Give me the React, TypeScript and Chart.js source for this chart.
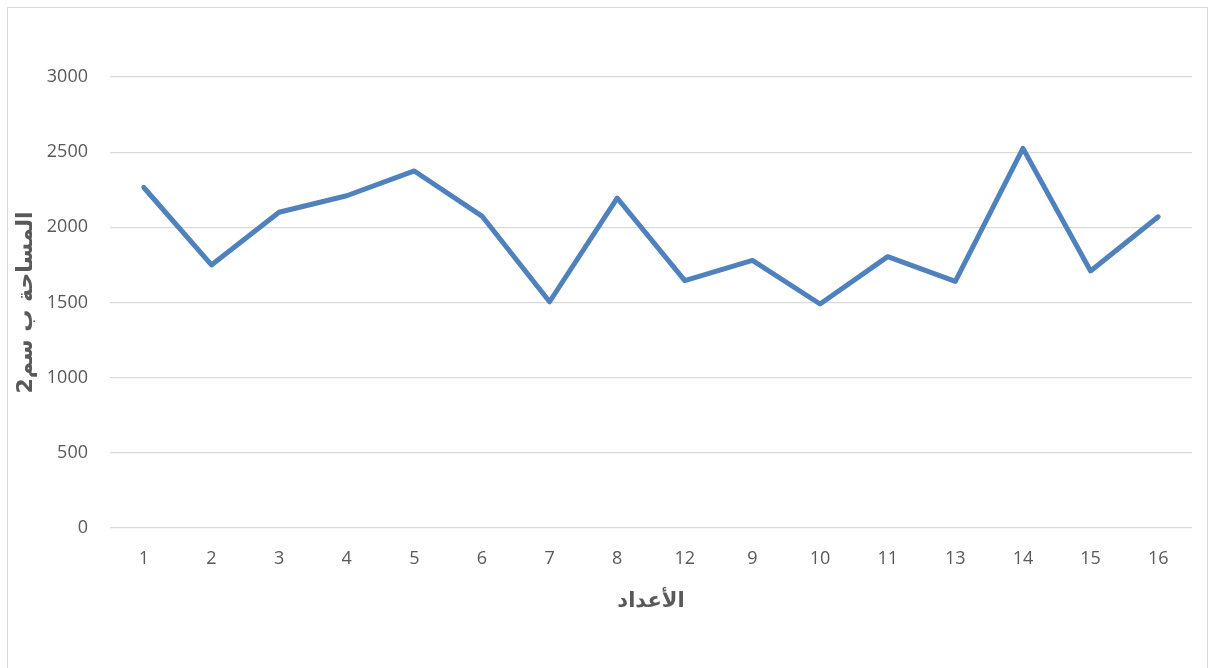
import React, { useEffect, useRef } from "react";
import { Chart, registerables } from "chart.js";

Chart.register(...registerables);

const categories = ["1", "2", "3", "4", "5", "6", "7", "8", "12", "9", "10", "11", "13", "14", "15", "16"];
const areaValues = [2265, 1750, 2100, 2210, 2375, 2075, 1505, 2195, 1645, 1780, 1490, 1805, 1640, 2525, 1710, 2070];
const yTicks = [0, 500, 1000, 1500, 2000, 2500, 3000];
const xTitle = "الأعداد";
const yTitle = "المساحة ب سم2";

export default function App() {
  const ref = useRef<HTMLCanvasElement>(null);
  useEffect(() => {
    if (!ref.current) return;
    const tickFont = { family: "'Open Sans', 'DejaVu Sans', sans-serif", size: 18 };
    const xTitleFont = { family: "'DejaVu Sans', sans-serif", size: 21, weight: "bold" as const };
    const yTitleFont = { family: "'DejaVu Sans', sans-serif", size: 22, weight: "bold" as const };
    const chart = new Chart(ref.current, {
      type: "line",
      data: {
        labels: categories,
        datasets: [
          {
            data: areaValues,
            borderColor: "#4f81bd",
            borderWidth: 5,
            pointRadius: 0,
            tension: 0,
            borderJoinStyle: "round",
            borderCapStyle: "round",
          },
        ],
      },
      options: {
        responsive: false,
        animation: false,
        layout: { padding: { top: 77, right: 23, left: 0, bottom: 0 } },
        plugins: { legend: { display: false }, tooltip: { enabled: false } },
        scales: {
          x: {
            offset: true,
            grid: { display: false, drawTicks: false },
            border: { display: false },
            ticks: { color: "#595959", font: tickFont, padding: 20, maxRotation: 0, autoSkip: false },
            title: { display: true, text: xTitle, color: "#595959", font: xTitleFont, padding: { top: 0, bottom: 54 } },
            afterFit: (s: any) => {
              s.height = 140;
            },
          },
          y: {
            min: 0,
            max: 3000,
            afterBuildTicks: (s: any) => {
              s.ticks = yTicks.map((v) => ({ value: v }));
            },
            grid: { color: "#d9d9d9", lineWidth: 1.3, drawTicks: false },
            border: { display: false },
            ticks: { color: "#595959", font: tickFont, padding: 22, callback: (v: any) => String(v) },
            title: { display: true, text: yTitle, color: "#595959", font: yTitleFont, padding: { top: 13, bottom: 0 } },
            afterFit: (s: any) => {
              s.width = 110;
            },
          },
        },
      },
    });
    return () => chart.destroy();
  }, []);
  return (
    <div style={{ position: "fixed", left: 0, top: 0, width: 1215, height: 668, background: "#fff", overflow: "hidden" }}>
      <div
        style={{
          position: "absolute",
          left: 7,
          top: 7,
          width: 1201,
          height: 700,
          border: "1px solid #d9d9d9",
          boxSizing: "border-box",
        }}
      />
      <canvas ref={ref} width={1215} height={668} style={{ position: "absolute", left: 0, top: 0 }} />
    </div>
  );
}
